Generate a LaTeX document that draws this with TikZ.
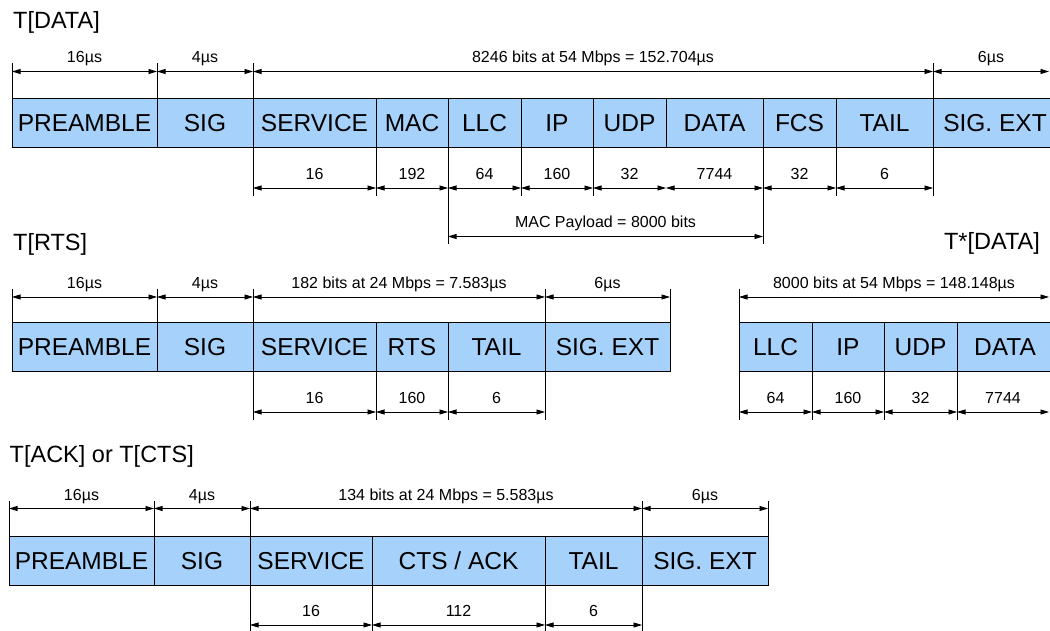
\documentclass[tikz,border=0pt]{standalone}
\usepackage{fontspec}
\setmainfont{Liberation Sans}
\usetikzlibrary{arrows.meta}
\definecolor{cellblue}{RGB}{166,209,250}
% name, x-left, x-right, y-top, y-bottom, text  (pixel coordinates, y downward)
\newcommand{\cellbox}[6]{\node[cell,minimum width={(#3-#2)*1pt},minimum height={(#5-#4)*1pt}] (#1) at ({(#2+#3)/2},{-(#4+#5)/2}) {#6};}
% from node, to node, label, rise
\newcommand{\topdim}[4]{\draw[dim] ([yshift=#4]#1.north west) -- node[lab]{#3} ([yshift=#4]#2.north east);}
\newcommand{\botdim}[4]{\draw[dim] ([yshift=-#4]#1.south west) -- node[lab]{#3} ([yshift=-#4]#2.south east);}
\begin{document}
\begin{tikzpicture}[x=1pt,y=1pt,
  cell/.style={draw=black, fill=cellblue, line width=0.9pt, inner sep=0pt, outer sep=0pt,
    font=\fontsize{24.5}{28}\selectfont, text height=17.5pt, text depth=0pt},
  dim/.style={line width=0.8pt, {Triangle[length=8.5pt,width=5pt]}-{Triangle[length=8.5pt,width=5pt]}},
  tick/.style={line width=0.8pt},
  lab/.style={font=\fontsize{16}{19}\selectfont, anchor=base, yshift=8.5pt, inner sep=0pt},
  title/.style={font=\fontsize{23.5}{27}\selectfont, inner sep=0pt}]
\useasboundingbox (0,0) rectangle (1050,-631);
\clip (0,0) rectangle (1050,-631);

% ---------------- T[DATA] ----------------
\node[title, anchor=base west] (t1) at (13,-28.5) {T[DATA]};
\cellbox{P1}{12}{157}{98}{147}{PREAMBLE}
\cellbox{S1}{157}{253}{98}{147}{SIG}
\cellbox{SV1}{253}{376}{98}{147}{SERVICE}
\cellbox{MAC1}{376}{448}{98}{147}{MAC}
\cellbox{LLC1}{448}{521}{98}{147}{LLC}
\cellbox{IP1}{521}{593}{98}{147}{IP}
\cellbox{UDP1}{593}{666}{98}{147}{UDP}
\cellbox{DATA1}{666}{763}{98}{147}{DATA}
\cellbox{FCS1}{763}{836}{98}{147}{FCS}
\cellbox{TAIL1}{836}{933}{98}{147}{TAIL}
\cellbox{SX1}{933}{1057}{98}{147}{SIG. EXT}
\coordinate (r1) at (1049,-71.5);
\foreach \n in {P1.north west,S1.north west,SV1.north west,SX1.north west}
  \draw[tick] (\n) -- ++(0,34.5);
\topdim{P1}{P1}{16µs}{26.5pt}
\topdim{S1}{S1}{4µs}{26.5pt}
\topdim{SV1}{TAIL1}{8246 bits at 54 Mbps = 152.704µs}{26.5pt}
\draw[dim] ([yshift=26.5pt]SX1.north west) -- node[lab]{6µs} (r1);
\foreach \n in {SV1.south west,MAC1.south west,IP1.south west,UDP1.south west,FCS1.south west,TAIL1.south west,SX1.south west}
  \draw[tick] (\n) -- ++(0,-49);
\draw[tick] (LLC1.south west) -- ++(0,-97);
\draw[tick] (FCS1.south west) -- ++(0,-97);
\botdim{SV1}{SV1}{16}{41pt}
\botdim{MAC1}{MAC1}{192}{41pt}
\botdim{LLC1}{LLC1}{64}{41pt}
\botdim{IP1}{IP1}{160}{41pt}
\botdim{UDP1}{UDP1}{32}{41pt}
\botdim{DATA1}{DATA1}{7744}{41pt}
\botdim{FCS1}{FCS1}{32}{41pt}
\botdim{TAIL1}{TAIL1}{6}{41pt}
\botdim{LLC1}{DATA1}{MAC Payload = 8000 bits}{89.5pt}

% ---------------- T[RTS] ----------------
\node[title, anchor=base west] (t2) at (13,-251) {T[RTS]};
\cellbox{P2}{12}{157}{322}{371}{PREAMBLE}
\cellbox{S2}{157}{253}{322}{371}{SIG}
\cellbox{SV2}{253}{376}{322}{371}{SERVICE}
\cellbox{RTS2}{376}{448}{322}{371}{RTS}
\cellbox{TAIL2}{448}{545}{322}{371}{TAIL}
\cellbox{SX2}{545}{670}{322}{371}{SIG. EXT}
\foreach \n in {P2.north west,S2.north west,SV2.north west,SX2.north west,SX2.north east}
  \draw[tick] (\n) -- ++(0,33);
\topdim{P2}{P2}{16µs}{25pt}
\topdim{S2}{S2}{4µs}{25pt}
\topdim{SV2}{TAIL2}{182 bits at 24 Mbps = 7.583µs}{25pt}
\topdim{SX2}{SX2}{6µs}{25pt}
\foreach \n in {SV2.south west,RTS2.south west,TAIL2.south west,SX2.south west}
  \draw[tick] (\n) -- ++(0,-49);
\botdim{SV2}{SV2}{16}{41pt}
\botdim{RTS2}{RTS2}{160}{41pt}
\botdim{TAIL2}{TAIL2}{6}{41pt}

% ---------------- T*[DATA] ----------------
\node[title, anchor=base east] (t3) at (1040,-250) {T*[DATA]};
\cellbox{LLCs}{739}{812}{322}{371}{LLC}
\cellbox{IPs}{812}{884}{322}{371}{IP}
\cellbox{UDPs}{884}{957}{322}{371}{UDP}
\cellbox{DATAs}{957}{1053}{322}{371}{DATA}
\coordinate (r2) at (1049,-297);
\coordinate (r3) at (1049,-412);
\draw[tick] (LLCs.north west) -- ++(0,33);
\draw[dim] ([yshift=25pt]LLCs.north west) -- node[lab]{8000 bits at 54 Mbps = 148.148µs} (r2);
\foreach \n in {LLCs.south west,IPs.south west,UDPs.south west,DATAs.south west}
  \draw[tick] (\n) -- ++(0,-49);
\botdim{LLCs}{LLCs}{64}{41pt}
\botdim{IPs}{IPs}{160}{41pt}
\botdim{UDPs}{UDPs}{32}{41pt}
\draw[dim] ([yshift=-41pt]DATAs.south west) -- node[lab]{7744} (r3);

% ---------------- T[ACK] or T[CTS] ----------------
\node[title, anchor=base west] (t4) at (9.5,-462.7) {T[ACK] or T[CTS]};
\cellbox{P3}{9}{154}{536}{585}{PREAMBLE}
\cellbox{S3}{154}{250}{536}{585}{SIG}
\cellbox{SV3}{250}{372}{536}{585}{SERVICE}
\cellbox{CA3}{372}{545}{536}{585}{CTS / ACK}
\cellbox{TAIL3}{545}{642}{536}{585}{TAIL}
\cellbox{SX3}{642}{768}{536}{585}{SIG. EXT}
\foreach \n in {P3.north west,S3.north west,SV3.north west,SX3.north west,SX3.north east}
  \draw[tick] (\n) -- ++(0,35.5);
\topdim{P3}{P3}{16µs}{27.5pt}
\topdim{S3}{S3}{4µs}{27.5pt}
\topdim{SV3}{TAIL3}{134 bits at 24 Mbps = 5.583µs}{27.5pt}
\topdim{SX3}{SX3}{6µs}{27.5pt}
\foreach \n in {SV3.south west,CA3.south west,TAIL3.south west,SX3.south west}
  \draw[tick] (\n) -- ++(0,-50);
\botdim{SV3}{SV3}{16}{40pt}
\botdim{CA3}{CA3}{112}{40pt}
\botdim{TAIL3}{TAIL3}{6}{40pt}
\end{tikzpicture}
\end{document}
